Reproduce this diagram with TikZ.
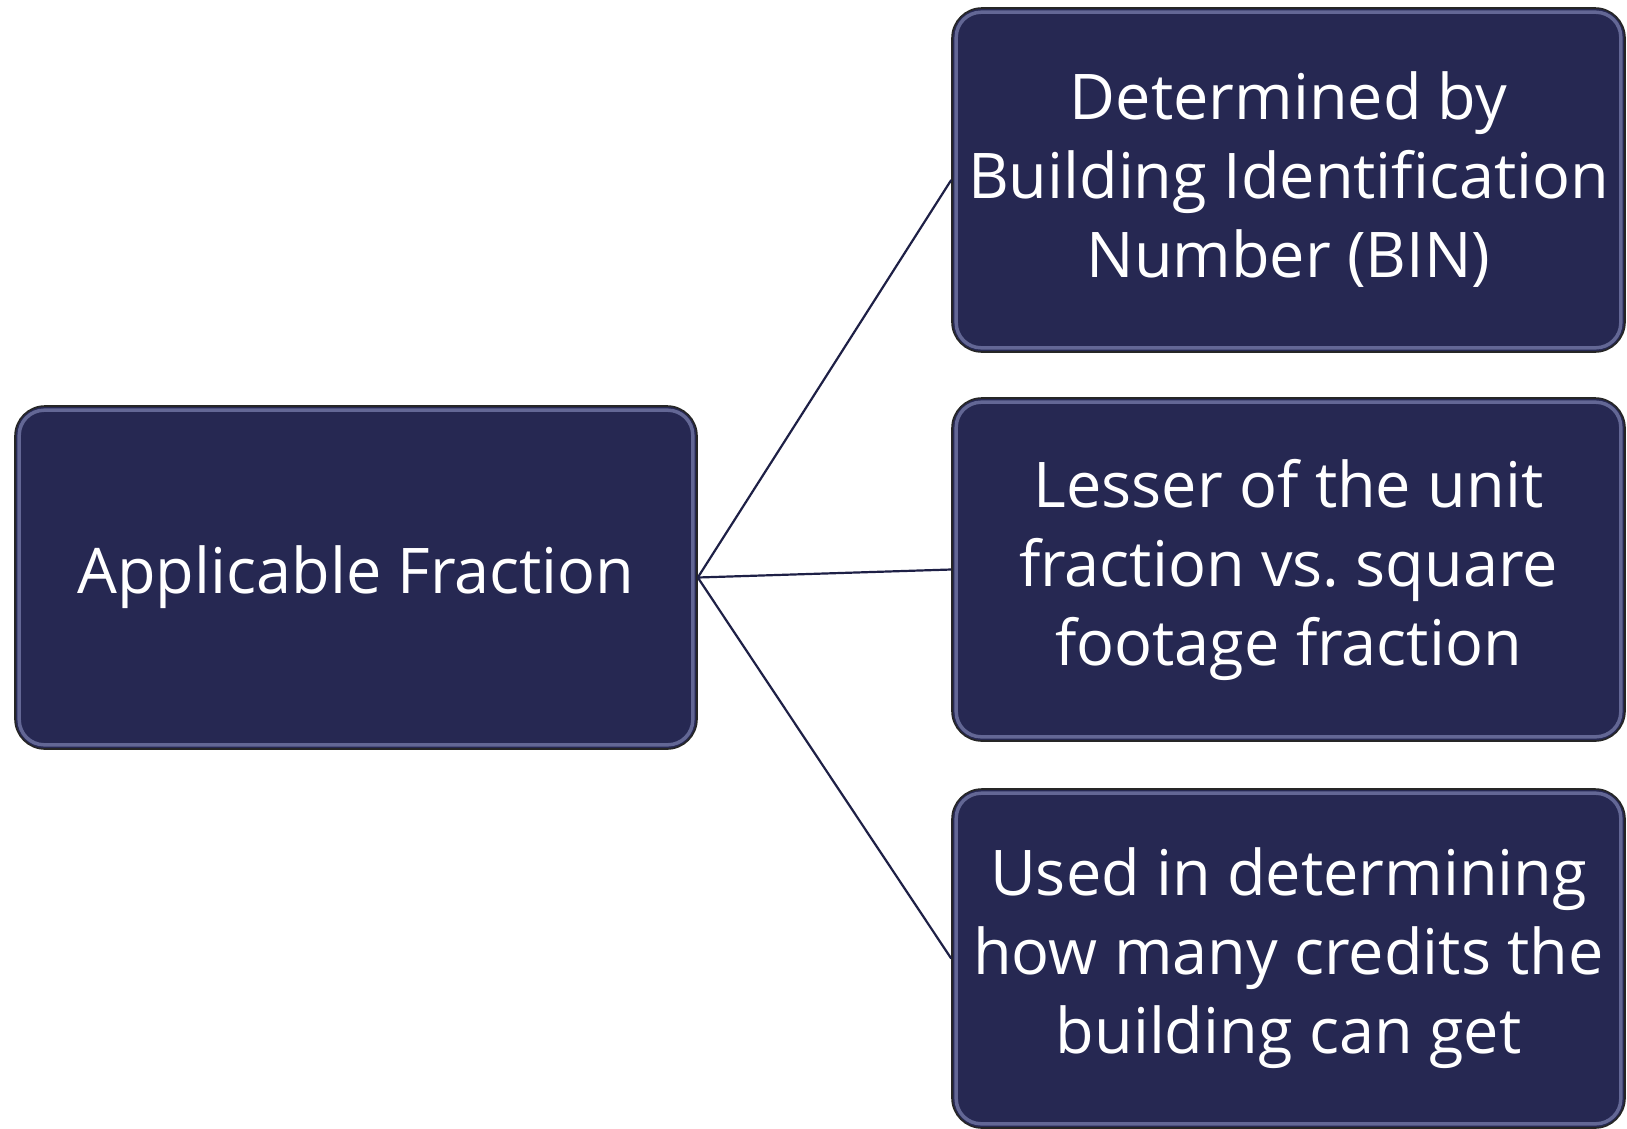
\documentclass[tikz,border=0pt]{standalone}
\usepackage{fontspec}
\setmainfont{Open Sans}[Ligatures=NoCommon]
\frenchspacing
\definecolor{navy}{RGB}{38,40,82}
\definecolor{gleamc}{RGB}{125,131,178}
\definecolor{linec}{RGB}{30,32,70}
\begin{document}
\begin{tikzpicture}[x=1pt,y=-1pt,
  box/.style={draw=black!85, line width=1.6pt, fill=navy, rounded corners=30pt,
    text=white, align=center, inner sep=0pt,
    font=\fontsize{63}{79}\selectfont},
  gleam/.style={draw=gleamc, line width=3.5pt, rounded corners=25pt, opacity=0.7},
  conn/.style={draw=linec, line width=2.2pt}]
\useasboundingbox (0,0) rectangle (1627,1128);
\node[box, minimum width=682pt, minimum height=343pt] (a) at (356,577.5) {Applicable Fraction};
\node[box, minimum width=673pt, minimum height=344pt] (b1) at (1288.5,180) {Determined by\\Building Identification\\Number (BIN)};
\node[box, minimum width=673pt, minimum height=343pt] (b2) at (1288.5,569.5) {Lesser of the unit\\fraction vs. square\\footage fraction};
\node[box, minimum width=673pt, minimum height=339pt] (b3) at (1288.5,958.5) {Used in determining\\how many credits the\\building can get};
\foreach \n in {a,b1,b2,b3}{
  \draw[gleam] ([xshift=5pt,yshift=-5pt]\n.north west) rectangle ([xshift=-5pt,yshift=5pt]\n.south east);
}
\draw[conn] (a.east) -- (b1.west);
\draw[conn] (a.east) -- (b2.west);
\draw[conn] (a.east) -- (b3.west);
\end{tikzpicture}
\end{document}
